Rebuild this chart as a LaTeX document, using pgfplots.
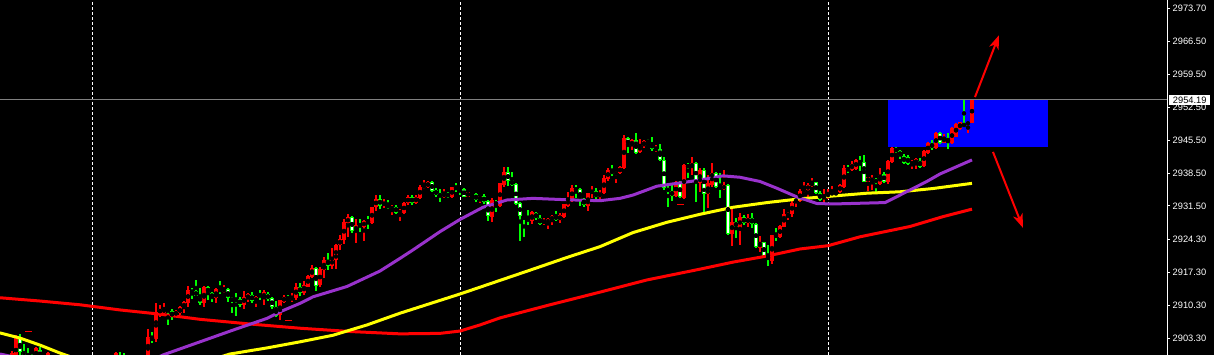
\documentclass[border=0pt]{standalone}
\usepackage{pgfplots}
\pgfplotsset{compat=1.18}
\usepackage{pgfplotstable}
\usepackage{fontspec}
\setmainfont{Liberation Sans}
\usetikzlibrary{arrows.meta}
\definecolor{mtred}{RGB}{255,0,0}
\definecolor{mtgreen}{RGB}{0,255,0}
\definecolor{mtpurple}{RGB}{153,50,204}
\definecolor{mtyellow}{RGB}{255,255,0}
\definecolor{mtblue}{RGB}{0,0,255}
\definecolor{bidgray}{RGB}{128,128,128}
\newcommand\tickfont{\fontsize{9.3}{10}\selectfont}

% bullish (red) candles: bar index, open, high, low, close
\pgfplotstableread{
x o h l c
3 2898.6 2900.5 2898.2 2900.1
4 2898.2 2903.9 2897.6 2903.3
9 2899.0 2901.4 2898.6 2901.2
12 2898.6 2900.3 2898.2 2900.1
29 2898.6 2900.3 2898.2 2900.1
37 2898.6 2905.2 2898.0 2903.5
39 2903.1 2910.8 2902.5 2908.9
40 2908.6 2910.4 2907.8 2909.5
41 2908.6 2910.8 2908.2 2909.7
44 2908.2 2909.3 2907.8 2909.1
45 2908.6 2910.1 2908.2 2909.9
46 2909.7 2911.2 2908.6 2911.0
47 2910.8 2914.4 2909.9 2913.6
51 2910.8 2914.4 2909.9 2914.2
54 2911.8 2914.0 2910.8 2913.8
56 2913.1 2914.6 2912.9 2913.8
61 2910.4 2913.3 2909.5 2912.1
62 2911.6 2912.9 2911.0 2912.7
64 2911.0 2912.3 2909.9 2912.1
66 2911.8 2913.6 2910.4 2913.1
70 2908.2 2911.4 2907.2 2911.4
71 2911.0 2912.5 2910.8 2912.1
73 2911.4 2912.9 2911.0 2912.1
74 2911.8 2915.0 2911.4 2914.2
76 2912.9 2915.5 2912.5 2914.6
77 2914.2 2916.8 2914.2 2916.5
78 2916.3 2918.9 2916.1 2918.2
80 2914.6 2918.5 2914.2 2918.0
81 2917.8 2920.6 2916.1 2920.0
83 2918.7 2922.5 2918.0 2920.2
84 2920.0 2923.4 2918.0 2923.2
85 2923.2 2925.3 2922.1 2924.4
86 2924.2 2928.7 2923.4 2928.1
87 2927.8 2929.8 2924.9 2929.1
89 2926.1 2928.7 2923.6 2927.4
91 2927.0 2928.5 2924.0 2928.3
93 2927.8 2931.3 2927.6 2931.3
94 2931.3 2933.8 2930.4 2933.0
96 2931.7 2933.0 2931.0 2932.1
98 2930.8 2931.7 2929.5 2931.3
100 2930.0 2930.8 2928.3 2930.4
101 2930.0 2932.3 2929.8 2932.1
102 2932.1 2933.8 2931.7 2933.4
104 2932.1 2933.8 2931.9 2933.4
105 2933.2 2935.9 2933.0 2935.5
106 2935.3 2937.0 2935.1 2935.9
107 2935.5 2936.8 2935.3 2936.6
111 2933.4 2935.1 2933.2 2934.2
113 2933.4 2935.5 2933.2 2935.5
117 2933.4 2934.5 2933.4 2934.5
120 2932.8 2933.6 2932.1 2933.6
123 2929.1 2933.2 2928.1 2932.8
125 2931.5 2936.4 2931.3 2936.4
126 2935.9 2939.8 2935.5 2938.7
133 2928.3 2930.4 2927.6 2930.2
136 2927.8 2928.9 2927.4 2928.3
137 2927.8 2928.9 2926.6 2928.7
138 2928.5 2929.5 2927.4 2929.3
140 2928.5 2930.0 2927.8 2929.5
141 2929.1 2931.9 2928.9 2931.9
142 2931.5 2934.5 2931.3 2933.0
143 2932.8 2935.9 2932.3 2935.3
147 2931.5 2934.2 2930.4 2934.2
148 2934.2 2935.7 2933.2 2934.9
150 2933.4 2934.9 2933.0 2934.2
151 2934.2 2938.1 2934.0 2937.4
152 2937.2 2939.6 2936.8 2939.2
154 2938.3 2938.9 2936.4 2938.7
155 2938.5 2940.0 2938.3 2939.8
156 2939.6 2946.6 2939.4 2946.0
158 2944.3 2945.8 2943.4 2945.5
160 2943.0 2945.8 2942.8 2944.5
161 2944.3 2945.5 2943.8 2945.3
164 2943.4 2944.5 2943.0 2943.8
169 2933.6 2936.8 2933.4 2936.6
171 2933.2 2940.4 2933.0 2940.2
173 2939.8 2941.9 2938.1 2940.6
175 2936.4 2939.6 2934.5 2939.2
177 2934.0 2938.1 2931.0 2936.4
178 2935.9 2940.6 2935.5 2938.5
181 2935.1 2939.2 2934.9 2935.9
183 2925.5 2931.0 2922.9 2928.1
185 2926.8 2930.0 2923.2 2929.1
187 2927.8 2929.8 2927.0 2928.9
190 2922.5 2925.1 2921.7 2923.8
193 2919.7 2925.3 2919.1 2925.3
195 2924.9 2927.4 2924.6 2927.2
196 2927.0 2930.8 2927.0 2929.8
197 2929.3 2930.2 2928.5 2930.0
198 2929.8 2933.0 2929.1 2932.1
199 2932.1 2933.6 2931.3 2933.2
200 2932.5 2935.1 2932.3 2934.7
201 2934.5 2936.6 2934.2 2934.9
202 2934.9 2936.4 2932.3 2935.9
203 2935.7 2937.4 2935.5 2936.6
206 2933.0 2935.1 2932.1 2933.6
207 2933.4 2935.1 2933.0 2934.2
208 2933.8 2935.7 2933.6 2934.5
209 2934.2 2934.7 2933.6 2934.5
210 2934.5 2936.2 2934.2 2935.9
211 2935.5 2940.2 2935.3 2939.6
213 2939.2 2941.1 2938.9 2940.4
214 2939.4 2941.5 2939.2 2941.3
217 2936.6 2937.7 2934.7 2937.7
218 2936.8 2938.1 2934.9 2937.4
220 2936.2 2939.6 2935.9 2938.1
222 2936.6 2941.3 2936.2 2941.1
223 2940.9 2944.1 2940.6 2943.8
228 2940.4 2941.3 2939.4 2940.9
229 2940.4 2941.7 2939.4 2941.5
231 2940.0 2943.4 2939.8 2943.2
232 2942.8 2945.1 2942.6 2944.9
234 2943.8 2947.3 2943.6 2947.0
236 2944.9 2946.8 2944.9 2946.2
238 2944.9 2948.3 2944.7 2948.1
239 2946.2 2949.2 2946.2 2949.0
240 2947.9 2949.4 2947.7 2949.4
242 2949.0 2949.4 2947.0 2949.2
243 2949.2 2954.19 2949.2 2954.19
}\redtab

% bearish (green/white) candles: bar index, open, high, low, close
\pgfplotstableread{
x o h l c
5 2903.3 2904.2 2898.6 2900.3
6 2900.3 2902.0 2898.2 2899.0
7 2899.5 2901.2 2898.2 2898.6
8 2900.8 2901.0 2899.5 2900.3
10 2900.8 2901.4 2898.6 2899.0
30 2899.5 2900.3 2898.2 2898.6
31 2899.5 2900.1 2898.2 2898.6
38 2903.5 2904.6 2902.2 2902.9
42 2909.3 2909.3 2906.1 2909.1
43 2909.1 2909.5 2907.2 2907.8
48 2913.3 2914.0 2911.6 2913.1
49 2913.3 2915.7 2912.3 2912.3
50 2912.3 2914.0 2910.4 2910.8
52 2914.2 2914.4 2911.4 2912.9
53 2912.9 2913.1 2911.0 2911.8
55 2913.8 2915.5 2912.7 2913.3
57 2913.8 2914.0 2911.0 2911.8
58 2911.6 2912.1 2908.6 2911.4
59 2911.6 2912.9 2908.0 2911.4
60 2911.6 2912.1 2909.9 2910.4
63 2912.5 2913.1 2910.8 2911.2
65 2912.5 2913.6 2911.4 2912.3
67 2912.7 2913.1 2911.2 2911.6
68 2911.8 2912.1 2909.5 2909.9
69 2909.9 2911.2 2907.8 2908.0
72 2911.6 2912.5 2911.2 2911.4
75 2914.2 2915.0 2912.3 2912.9
79 2918.2 2918.5 2913.3 2914.4
82 2920.0 2921.4 2917.8 2918.7
88 2929.1 2929.3 2925.7 2926.1
90 2927.6 2928.7 2925.9 2927.2
92 2928.3 2929.3 2926.6 2928.1
95 2933.0 2933.8 2930.8 2931.5
97 2931.9 2932.8 2930.8 2931.0
99 2931.3 2931.7 2929.8 2930.0
103 2933.4 2933.8 2931.7 2932.1
108 2936.6 2936.8 2934.5 2934.7
109 2934.9 2935.3 2933.4 2933.8
110 2934.2 2935.1 2932.3 2933.4
112 2934.2 2934.5 2933.2 2933.4
114 2935.5 2936.4 2934.5 2935.1
115 2935.5 2935.7 2933.8 2935.1
116 2935.1 2935.3 2933.4 2933.4
118 2934.2 2934.5 2933.6 2934.0
119 2934.0 2934.2 2932.3 2932.8
121 2933.6 2934.0 2931.9 2932.3
122 2932.5 2932.8 2928.3 2929.3
124 2932.3 2932.8 2930.2 2931.7
127 2938.7 2939.8 2935.7 2936.8
128 2937.0 2938.7 2935.7 2935.9
129 2936.2 2936.4 2931.7 2931.9
130 2932.1 2932.3 2924.0 2929.3
131 2929.1 2929.3 2924.9 2928.9
132 2928.9 2930.6 2927.4 2928.3
134 2930.0 2930.2 2928.5 2928.9
135 2928.9 2929.5 2927.4 2927.6
139 2929.5 2930.4 2928.3 2928.5
144 2935.1 2935.9 2933.2 2934.9
145 2935.1 2935.3 2931.5 2932.8
146 2933.0 2933.2 2931.3 2931.7
149 2934.7 2935.3 2932.3 2933.4
153 2939.2 2940.2 2937.9 2938.3
157 2946.0 2946.2 2942.8 2944.3
159 2945.5 2947.0 2942.6 2942.8
162 2945.3 2945.8 2944.7 2944.9
163 2944.9 2946.2 2943.2 2943.6
165 2943.6 2944.7 2941.1 2941.3
166 2941.3 2941.9 2934.9 2935.3
167 2935.3 2935.9 2931.3 2934.5
168 2934.7 2935.9 2932.5 2933.6
170 2936.4 2936.8 2933.2 2933.4
172 2940.2 2940.6 2937.4 2939.8
174 2940.6 2940.9 2932.3 2936.4
176 2939.2 2939.6 2930.2 2934.0
179 2938.5 2938.7 2935.3 2935.5
180 2935.5 2938.5 2933.2 2935.3
182 2935.9 2936.2 2925.3 2925.5
184 2928.1 2928.9 2924.6 2927.0
186 2929.1 2929.5 2927.4 2927.8
188 2928.9 2930.0 2926.8 2927.6
189 2927.6 2927.8 2922.5 2922.7
191 2923.8 2923.8 2920.4 2920.6
192 2920.6 2923.2 2918.7 2920.2
194 2925.3 2926.8 2924.0 2924.9
204 2936.6 2936.6 2934.0 2934.2
205 2934.2 2934.7 2932.5 2932.8
212 2939.4 2940.2 2938.5 2939.2
215 2941.1 2942.1 2938.9 2940.6
216 2940.9 2942.4 2936.6 2936.6
219 2937.2 2937.4 2934.0 2936.4
221 2938.3 2938.7 2936.4 2936.6
224 2943.8 2944.1 2942.8 2943.0
225 2943.2 2943.4 2941.5 2942.1
226 2942.1 2942.6 2940.4 2940.6
227 2941.9 2942.4 2940.2 2940.4
230 2941.1 2941.7 2939.6 2939.8
233 2944.9 2945.5 2943.4 2943.8
235 2947.0 2947.3 2944.7 2944.9
237 2946.0 2947.0 2943.6 2945.1
241 2949.2 2954.19 2948.3 2948.3
}\greentab

\begin{document}
\begin{tikzpicture}
\path[use as bounding box, fill=black] (0,0) rectangle (1214pt,355pt);
\begin{axis}[
  at={(0pt,0pt)}, anchor=south west,
  scale only axis, width=1167pt, height=355pt,
  xmin=0, xmax=291.75, ymin=2899.69, ymax=2975.41,
  axis x line=bottom, axis y line=right,
  axis line style={-},
  x axis line style={draw=none},
  y axis line style={white, line width=1pt},
  xtick={23,115,207}, xticklabels={},
  xtick style={draw=none},
  xmajorgrids,
  major grid style={white, line width=1pt, dash pattern=on 3pt off 2pt},
  ytick={2903.3,2910.3,2917.3,2924.3,2931.5,2938.5,2945.5,2952.5,2959.5,2966.5,2973.7},
  yticklabels={2903.30,2910.30,2917.30,2924.30,2931.50,2938.50,2945.50,2952.50,2959.50,2966.50,2973.70},
  ytick style={white, line width=1pt},
  tick align=outside, major tick length=3pt,
  yticklabel style={text=white, font=\tickfont, anchor=west, inner sep=0pt, xshift=2.5pt},
]
% zone rectangle
\fill[mtblue] (axis cs:222,2944.05) rectangle (axis cs:262,2954.19);

% wicks
\addplot[only marks, mark=none, forget plot, error bars/.cd, y dir=both, y explicit, error mark=none,
  error bar style={draw=mtred, solid, line width=1.1pt}]
  table[x=x, y expr={(\thisrow{h}+\thisrow{l})/2}, y error expr={(\thisrow{h}-\thisrow{l})/2}] {\redtab};
\addplot[only marks, mark=none, forget plot, error bars/.cd, y dir=both, y explicit, error mark=none,
  error bar style={draw=mtgreen, solid, line width=1.1pt}]
  table[x=x, y expr={(\thisrow{h}+\thisrow{l})/2}, y error expr={(\thisrow{h}-\thisrow{l})/2}] {\greentab};
% bodies
\addplot[only marks, mark=none, forget plot, error bars/.cd, y dir=both, y explicit, error mark=none,
  error bar style={draw=mtred, solid, line width=3.3pt}]
  table[x=x, y expr={(\thisrow{o}+\thisrow{c})/2}, y error expr={max(abs(\thisrow{o}-\thisrow{c})/2,0.12)}] {\redtab};
\addplot[only marks, mark=none, forget plot, error bars/.cd, y dir=both, y explicit, error mark=none,
  error bar style={draw=mtgreen, solid, line width=3.3pt}]
  table[x=x, y expr={(\thisrow{o}+\thisrow{c})/2}, y error expr={max(abs(\thisrow{o}-\thisrow{c})/2,0.12)}] {\greentab};
\addplot[only marks, mark=none, forget plot, error bars/.cd, y dir=both, y explicit, error mark=none,
  error bar style={draw=white, solid, line width=1.2pt}]
  table[x=x, y expr={(\thisrow{o}+\thisrow{c})/2}, y error expr={max(abs(\thisrow{o}-\thisrow{c})/2-0.2133,0)}] {\greentab};

% small order markers
\addplot[mtred, line width=1pt, forget plot] coordinates {(6.25,2904.8) (8,2904.8)};
\addplot[mtred, line width=1pt, forget plot] coordinates {(71.25,2907.0) (73,2907.0)};
\addplot[mtred, line width=1pt, forget plot] coordinates {(169.25,2931.7) (171,2931.7)};

% moving averages
\addplot[mtred, line width=3pt, line join=round] coordinates {
(0,2911.9) (10,2911.2) (20,2910.4) (30,2909.3) (40,2908.4) (50,2907.3) (62.5,2906.3) (75,2905.4)
(87.5,2904.7) (100,2904.2) (110,2904.3) (115,2904.8) (120,2906.1) (125,2907.6) (137.5,2910.4)
(150,2913.1) (161.75,2915.7) (175,2918.0) (183.25,2919.5) (191.75,2920.8) (200,2922.3) (207,2923.0)
(215,2924.9) (227.5,2927.1) (235.75,2929.2) (243,2930.8)};
\addplot[mtyellow, line width=3pt, line join=round] coordinates {
(0,2904.4) (5,2903.3) (10,2901.8) (15,2900.1) (20,2898.6) (30,2896.9) (42.5,2896.9) (52.5,2898.6)
(57.5,2899.9) (66.75,2901.2) (75,2902.5) (83.25,2903.9) (91.75,2906.1) (100,2908.6) (115,2912.7)
(133.25,2918.0) (141.75,2920.5) (150,2922.8) (158.25,2925.8) (166.75,2928.0) (175,2929.7)
(183.25,2931.2) (191.75,2932.2) (200,2933.0) (208.25,2933.6) (216.75,2934.2) (225,2934.5)
(233.25,2935.2) (243,2936.3)};
\addplot[mtpurple, line width=3pt, line join=round] coordinates {
(0,2899.9) (5,2899.0) (10,2897.8) (25,2896.5) (35,2897.3) (40.75,2899.7) (50,2902.5) (58.25,2905.0)
(66.75,2907.5) (70,2908.9) (75,2910.7) (78.25,2912.1) (86.75,2914.3) (95,2917.6) (100,2920.3)
(103.25,2922.1) (110,2926.0) (115,2928.6) (120.75,2931.2) (126.75,2932.75) (133.25,2933.1)
(141.75,2932.8) (150,2932.6) (155,2933.1) (158.25,2933.8) (164.25,2935.7) (175,2937.0)
(180.75,2937.9) (185,2937.6) (190,2936.7) (194.25,2935.25) (199.25,2933.4) (204.25,2932.0)
(208.25,2931.9) (221.25,2932.2) (225,2933.8) (231.7,2936.7) (235,2938.3) (243,2941.3)};

% arrows
\draw[mtred, line width=2pt, -{Stealth[length=14pt, width=10pt, inset=4pt]}]
  (axis cs:243.75,2954.7) -- (axis cs:249.75,2967.9);
\draw[mtred, line width=2pt, -{Stealth[length=14pt, width=10pt, inset=4pt]}]
  (axis cs:248.25,2943.0) -- (axis cs:255.75,2926.8);

% bid line
\draw[bidgray, line width=1pt] (axis cs:0,2954.19) -- (axis cs:291.75,2954.19);
\end{axis}
\node[fill=white, text=black, inner sep=0pt, minimum width=41pt, minimum height=10pt,
  font=\tickfont, anchor=west] at (1169pt,255pt) {2954.19};
\end{tikzpicture}
\end{document}
